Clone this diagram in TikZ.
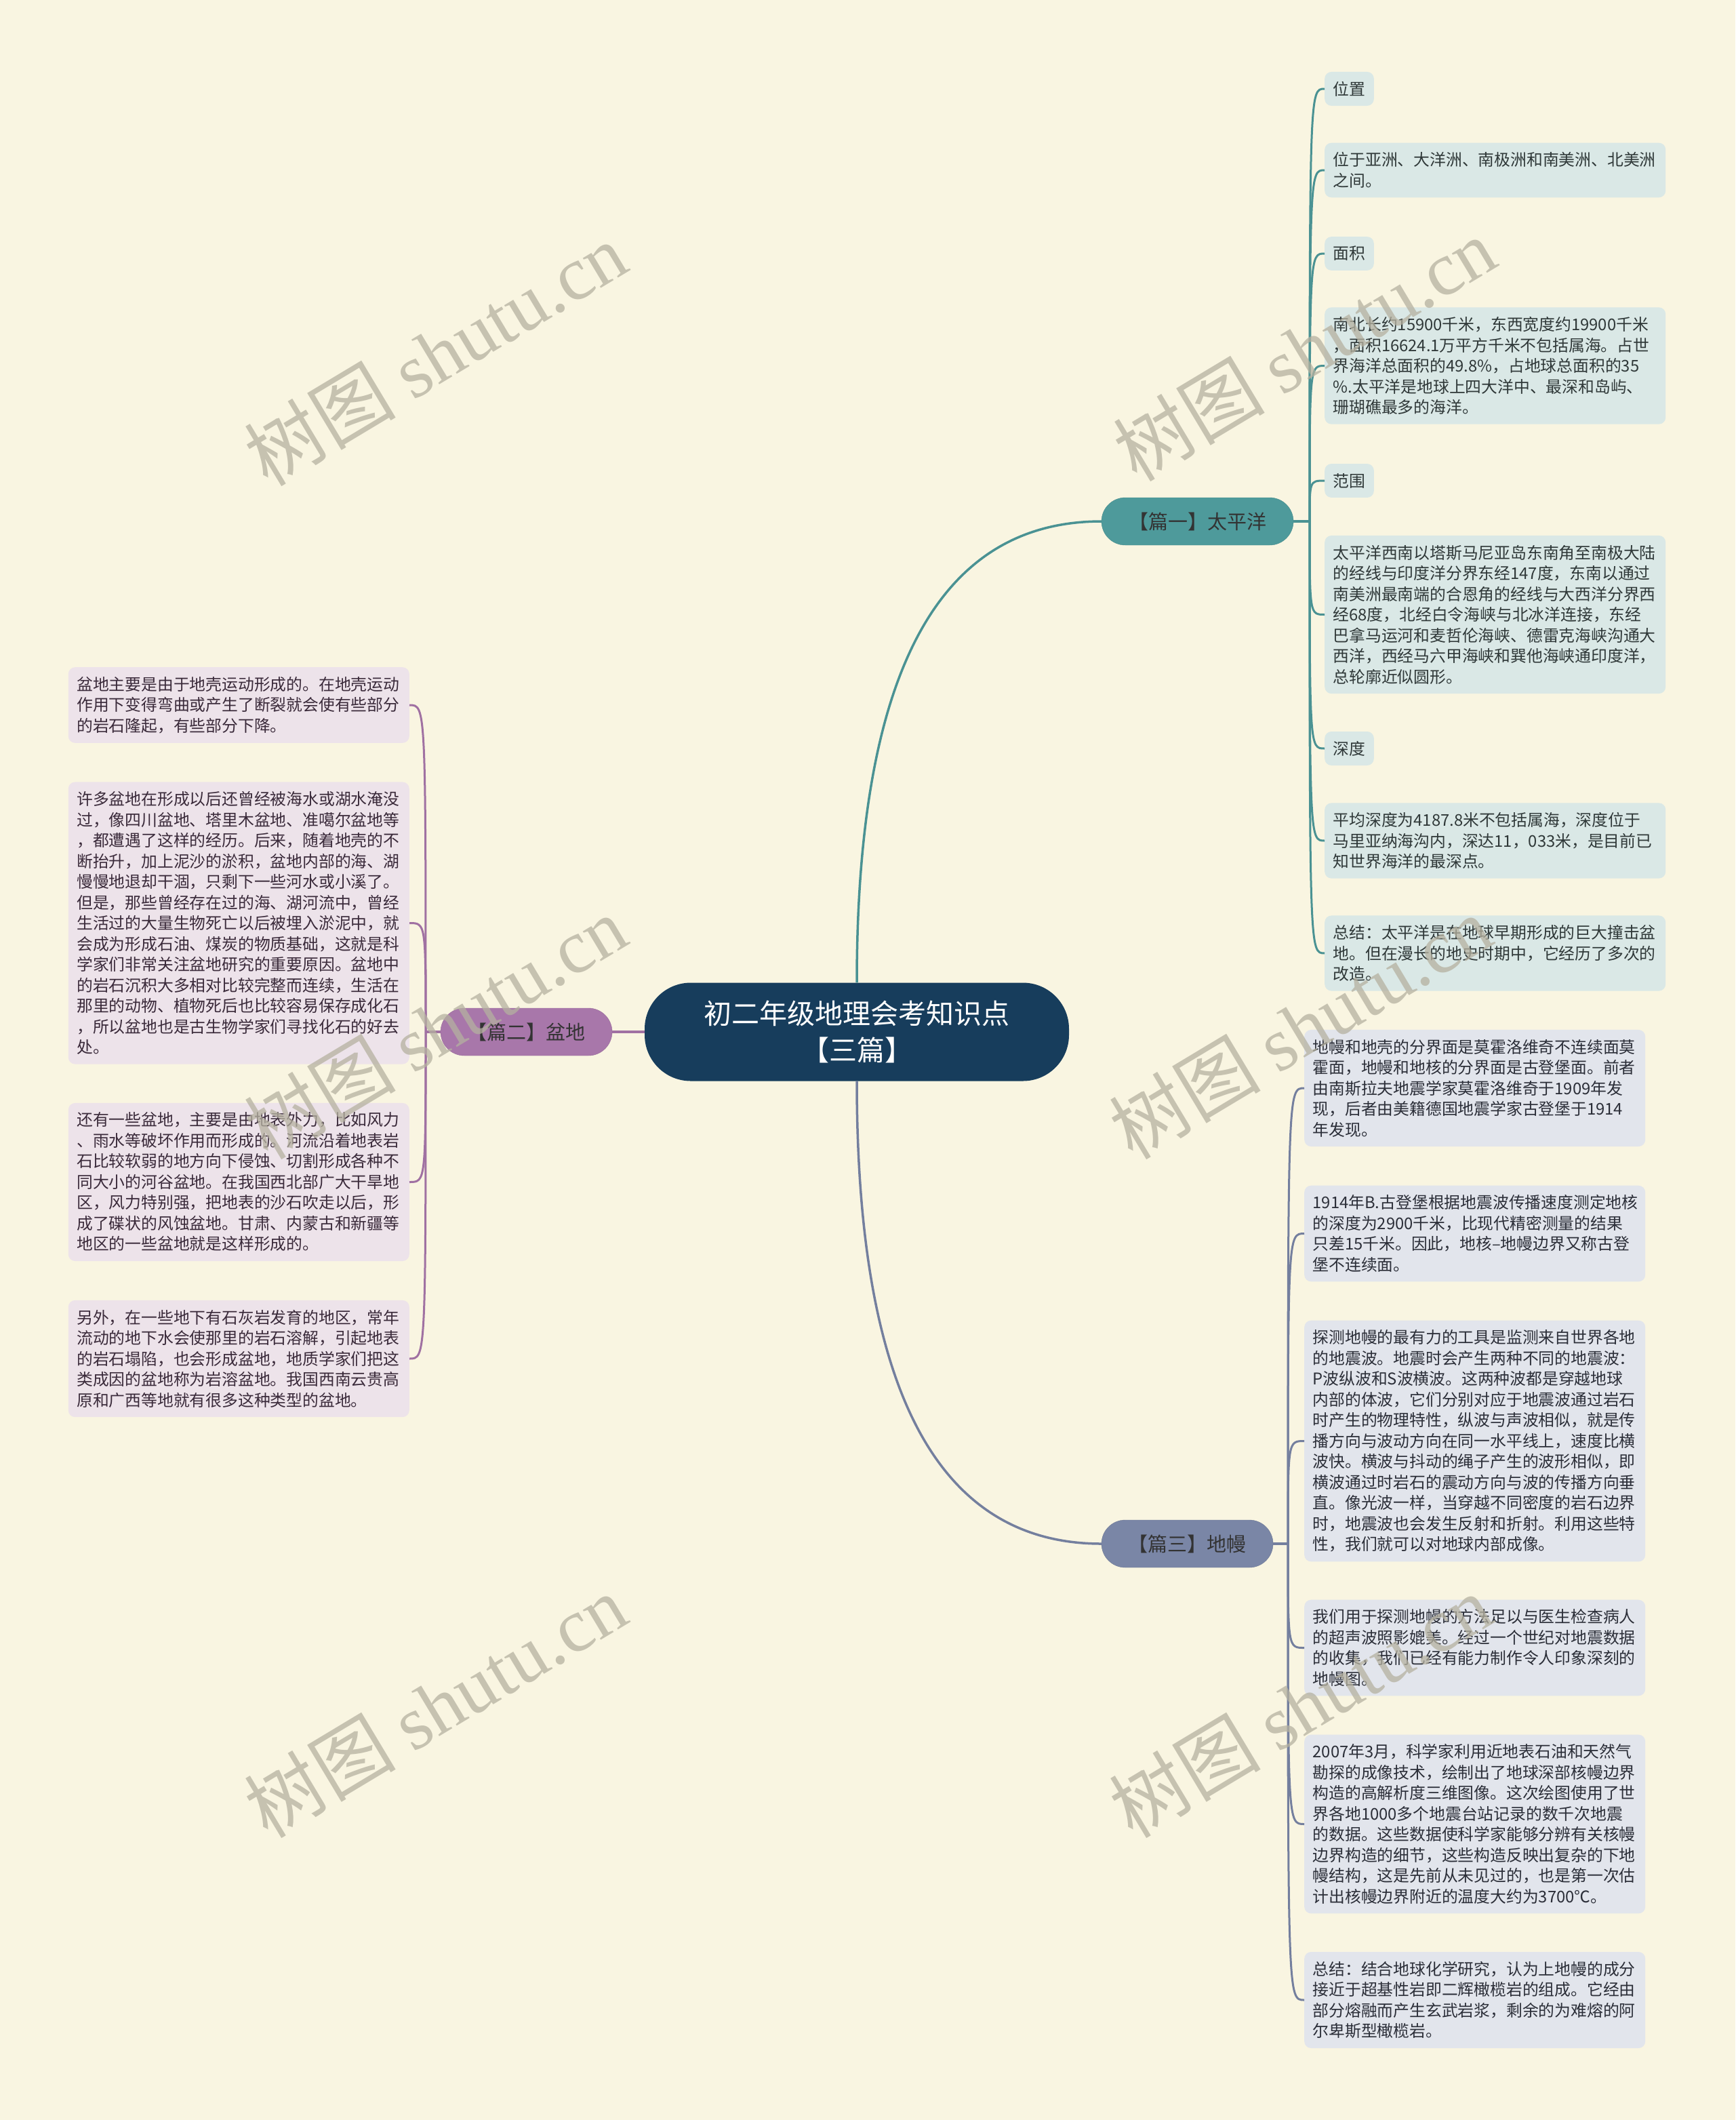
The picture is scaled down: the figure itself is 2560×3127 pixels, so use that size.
\documentclass[tikz,border=0pt]{standalone}
\usepackage{fontspec}
\setmainfont{Noto Sans CJK SC}
\newfontfamily\wmlatin{Liberation Serif}
\definecolor{bgc}{HTML}{F9F5E1}
\definecolor{rootfill}{HTML}{173D5C}
\definecolor{bAfill}{HTML}{4E9A9B}
\definecolor{bBfill}{HTML}{A877AA}
\definecolor{bCfill}{HTML}{7A86A6}
\definecolor{lAfill}{HTML}{DAE8E6}
\definecolor{lBfill}{HTML}{EDE3EA}
\definecolor{lCfill}{HTML}{E2E5EC}
\definecolor{tA}{HTML}{2F3838}
\definecolor{tB}{HTML}{3A2A3A}
\definecolor{tC}{HTML}{2B2E38}
\definecolor{wm}{HTML}{B5B1A0}
\begin{document}
\begin{tikzpicture}[x=1pt,y=-1pt,
  leaf/.style={rounded corners=10pt, inner xsep=12.5pt, inner ysep=14pt, align=left,
    font=\fontsize{23.8}{30.5}\selectfont},
  leafA/.style={leaf, fill=lAfill, text=tA, anchor=west},
  leafB/.style={leaf, fill=lBfill, text=tB, anchor=east},
  leafC/.style={leaf, fill=lCfill, text=tC, anchor=west},
  wide/.style={text width=478pt},
  pill/.style={rounded corners=35pt, minimum height=70pt, inner sep=0pt, text=black!80,
    font=\fontsize{29}{34}\selectfont, anchor=center},
  conA/.style={draw=bAfill!95!black, line width=3.5pt},
  conB/.style={draw=bBfill!95!black, line width=3.5pt},
  conC/.style={draw=bCfill!95!black, line width=3.5pt},
  leafcon/.style={line width=3pt},
  wmark/.style={text=wm, opacity=0.75, rotate=31, font=\fontsize{112}{120}\selectfont, anchor=center}
]
\fill[bgc] (0,0) rectangle (2560,3127);
\useasboundingbox (0,0) rectangle (2560,3127);

% root
\node[fill=rootfill, text=white, rounded corners=68pt, minimum width=626pt, minimum height=145pt,
  align=center, font=\fontsize{41}{54}\selectfont, inner sep=0pt] (root) at (1264,1522)
  {初二年级地理会考知识点\\【三篇】};

% branches
\node[pill, fill=bAfill, draw=bAfill!90!black, minimum width=283pt] (b1) at (1766.5,769) {【篇一】太平洋};
\node[pill, fill=bBfill, draw=bBfill!90!black, minimum width=253pt] (b2) at (776.5,1522) {【篇二】盆地};
\node[pill, fill=bCfill, draw=bCfill!90!black, minimum width=253pt] (b3) at (1751.5,2277) {【篇三】地幔};

% branch 1 leaves
\node[leafA] (a1) at (1954,131) {位置};
\node[leafA, wide] (a2) at (1954,251) {位于亚洲、大洋洲、南极洲和南美洲、北美洲\\之间。};
\node[leafA] (a3) at (1954,374) {面积};
\node[leafA, wide] (a4) at (1954,539.5) {南北长约15900千米，东西宽度约19900千米\\，面积16624.1万平方千米不包括属海。占世\\界海洋总面积的49.8\%，占地球总面积的35\\\%.太平洋是地球上四大洋中、最深和岛屿、\\珊瑚礁最多的海洋。};
\node[leafA] (a5) at (1954,709) {范围};
\node[leafA, wide] (a6) at (1954,906.5) {太平洋西南以塔斯马尼亚岛东南角至南极大陆\\的经线与印度洋分界东经147度，东南以通过\\南美洲最南端的合恩角的经线与大西洋分界西\\经68度，北经白令海峡与北冰洋连接，东经\\巴拿马运河和麦哲伦海峡、德雷克海峡沟通大\\西洋，西经马六甲海峡和巽他海峡通印度洋，\\总轮廓近似圆形。};
\node[leafA] (a7) at (1954,1104) {深度};
\node[leafA, wide] (a8) at (1954,1240) {平均深度为4187.8米不包括属海，深度位于\\马里亚纳海沟内，深达11，033米，是目前已\\知世界海洋的最深点。};
\node[leafA, wide] (a9) at (1954,1406) {总结：太平洋是在地球早期形成的巨大撞击盆\\地。但在漫长的地史时期中，它经历了多次的\\改造。};

% branch 2 leaves
\node[leafB, wide] (m1) at (604,1040) {盆地主要是由于地壳运动形成的。在地壳运动\\作用下变得弯曲或产生了断裂就会使有些部分\\的岩石隆起，有些部分下降。};
\node[leafB, wide] (m2) at (604,1361.5) {许多盆地在形成以后还曾经被海水或湖水淹没\\过，像四川盆地、塔里木盆地、准噶尔盆地等\\，都遭遇了这样的经历。后来，随着地壳的不\\断抬升，加上泥沙的淤积，盆地内部的海、湖\\慢慢地退却干涸，只剩下一些河水或小溪了。\\但是，那些曾经存在过的海、湖河流中，曾经\\生活过的大量生物死亡以后被埋入淤泥中，就\\会成为形成石油、煤炭的物质基础，这就是科\\学家们非常关注盆地研究的重要原因。盆地中\\的岩石沉积大多相对比较完整而连续，生活在\\那里的动物、植物死后也比较容易保存成化石\\，所以盆地也是古生物学家们寻找化石的好去\\处。};
\node[leafB, wide] (m3) at (604,1743.5) {还有一些盆地，主要是由地表外力，比如风力\\、雨水等破坏作用而形成的。河流沿着地表岩\\石比较软弱的地方向下侵蚀、切割形成各种不\\同大小的河谷盆地。在我国西北部广大干旱地\\区，风力特别强，把地表的沙石吹走以后，形\\成了碟状的风蚀盆地。甘肃、内蒙古和新疆等\\地区的一些盆地就是这样形成的。};
\node[leafB, wide] (m4) at (604,2004) {另外，在一些地下有石灰岩发育的地区，常年\\流动的地下水会使那里的岩石溶解，引起地表\\的岩石塌陷，也会形成盆地，地质学家们把这\\类成因的盆地称为岩溶盆地。我国西南云贵高\\原和广西等地就有很多这种类型的盆地。};

% branch 3 leaves
\node[leafC, wide] (n1) at (1924,1605) {地幔和地壳的分界面是莫霍洛维奇不连续面莫\\霍面，地幔和地核的分界面是古登堡面。前者\\由南斯拉夫地震学家莫霍洛维奇于1909年发\\现，后者由美籍德国地震学家古登堡于1914\\年发现。};
\node[leafC, wide] (n2) at (1924,1819.5) {1914年B.古登堡根据地震波传播速度测定地核\\的深度为2900千米，比现代精密测量的结果\\只差15千米。因此，地核–地幔边界又称古登\\堡不连续面。};
\node[leafC, wide] (n3) at (1924,2125.5) {探测地幔的最有力的工具是监测来自世界各地\\的地震波。地震时会产生两种不同的地震波：\\P波纵波和S波横波。这两种波都是穿越地球\\内部的体波，它们分别对应于地震波通过岩石\\时产生的物理特性，纵波与声波相似，就是传\\播方向与波动方向在同一水平线上，速度比横\\波快。横波与抖动的绳子产生的波形相似，即\\横波通过时岩石的震动方向与波的传播方向垂\\直。像光波一样，当穿越不同密度的岩石边界\\时，地震波也会发生反射和折射。利用这些特\\性，我们就可以对地球内部成像。};
\node[leafC, wide] (n4) at (1924,2430.5) {我们用于探测地幔的方法足以与医生检查病人\\的超声波照影媲美。经过一个世纪对地震数据\\的收集，我们已经有能力制作令人印象深刻的\\地幔图。};
\node[leafC, wide] (n5) at (1924,2690.5) {2007年3月，科学家利用近地表石油和天然气\\勘探的成像技术，绘制出了地球深部核幔边界\\构造的高解析度三维图像。这次绘图使用了世\\界各地1000多个地震台站记录的数千次地震\\的数据。这些数据使科学家能够分辨有关核幔\\边界构造的细节，这些构造反映出复杂的下地\\幔结构，这是先前从未见过的，也是第一次估\\计出核幔边界附近的温度大约为3700℃。};
\node[leafC, wide] (n6) at (1924,2950) {总结：结合地球化学研究，认为上地幔的成分\\接近于超基性岩即二辉橄榄岩的组成。它经由\\部分熔融而产生玄武岩浆，剩余的为难熔的阿\\尔卑斯型橄榄岩。};

% junctions
\coordinate (j1) at (1932,769);
\coordinate (j2) at (628,1522);
\coordinate (j3) at (1900,2277);

% main connectors
\draw[conA] (root.north) .. controls (1264,1000) and (1380,769) .. (b1.west);
\draw[conB] (root.west) -- (b2.east);
\draw[conC] (root.south) .. controls (1264,2045) and (1380,2277) .. (b3.west);

% leaf connectors
\draw[conA] (b1.east) -- (j1);
\foreach \n in {a1,a2,a3,a4,a5,a6,a7,a8,a9}
  \draw[conA, leafcon] (j1) .. controls (j1 |- \n.west) .. (\n.west);
\draw[conB] (b2.west) -- (j2);
\foreach \n in {m1,m2,m3,m4}
  \draw[conB, leafcon] (j2) .. controls (j2 |- \n.east) .. (\n.east);
\draw[conC] (b3.east) -- (j3);
\foreach \n in {n1,n2,n3,n4,n5,n6}
  \draw[conC, leafcon] (j3) .. controls (j3 |- \n.west) .. (\n.west);

% watermarks
\foreach \i/\x/\y in {1/642/522, 2/1924/515, 3/642/1515, 4/1918/1515, 5/642/2516, 6/1918/2516}
  \node[wmark] (wm\i) at (\x,\y) {树图 {\wmlatin shutu.cn}};
\end{tikzpicture}
\end{document}
